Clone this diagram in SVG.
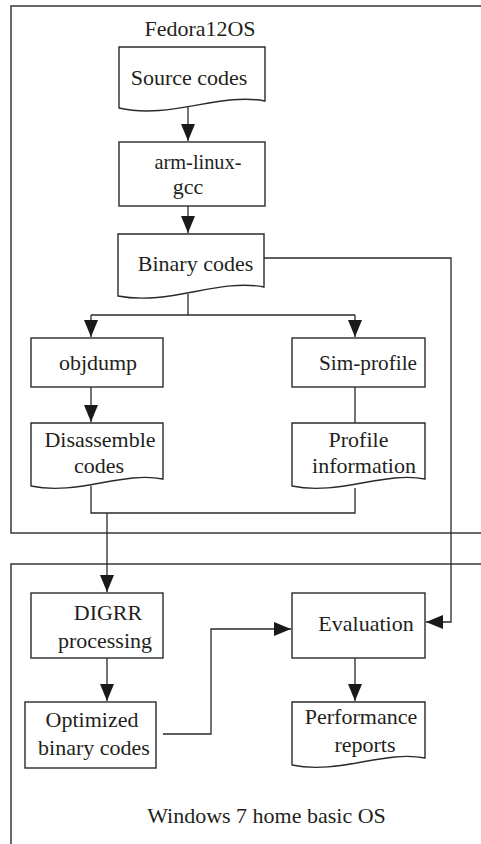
<svg xmlns="http://www.w3.org/2000/svg" width="481" height="844" viewBox="0 0 481 844">
<style>
.frame{fill:none;stroke:#2a2a2a;stroke-width:1.4}
.box{fill:#fff;stroke:#2a2a2a;stroke-width:1.4}
.conn{fill:none;stroke:#2a2a2a;stroke-width:1.3}
.t{font-family:"Liberation Serif","Times New Roman",serif;font-size:22px;fill:#231f20;text-anchor:middle}
</style>
<defs>
<marker id="ah" markerUnits="userSpaceOnUse" markerWidth="18" markerHeight="14" viewBox="0 0 18 14" refX="17" refY="7" orient="auto">
<path d="M0,0 L17,7 L0,14 Z" fill="#1a1a1a"/>
</marker>
</defs>
<rect width="481" height="844" fill="#fff"/>
<g id="fedora-frame">
<rect class="frame" x="11" y="6" width="500" height="527"/>
<text class="t" x="200" y="36">Fedora12OS</text>
</g>
<g id="windows-frame">
<rect class="frame" x="11" y="564" width="500" height="320"/>
<text class="t" x="266.5" y="823">Windows 7 home basic OS</text>
</g>
<g id="connectors">
<path class="conn" d="M188,106 V141" marker-end="url(#ah)"/>
<path class="conn" d="M188,206 V233" marker-end="url(#ah)"/>
<path class="conn" d="M264,258 H451 V622 H426" marker-end="url(#ah)"/>
<path class="conn" d="M188,294 V315"/>
<path class="conn" d="M91,315 H355"/>
<path class="conn" d="M91,315 V337" marker-end="url(#ah)"/>
<path class="conn" d="M355,315 V337" marker-end="url(#ah)"/>
<path class="conn" d="M91,387 V422" marker-end="url(#ah)"/>
<path class="conn" d="M355,387 V423"/>
<path class="conn" d="M91,486 V513 H355 V488"/>
<path class="conn" d="M107,513 V592" marker-end="url(#ah)"/>
<path class="conn" d="M107,658 V701" marker-end="url(#ah)"/>
<path class="conn" d="M163,734 H211 V629 H291" marker-end="url(#ah)"/>
<path class="conn" d="M355,658 V701" marker-end="url(#ah)"/>
</g>
<g id="source-codes">
<path class="box" d="M119,47 H265 V101 C220,92 170,120 119,108 Z"/>
<text class="t" x="189" y="85">Source codes</text>
</g>
<g id="arm-linux-gcc">
<rect class="box" x="119" y="142" width="146" height="64"/>
<text class="t" x="198" y="169" textLength="87" lengthAdjust="spacingAndGlyphs">arm-linux-</text>
<text class="t" x="188" y="194">gcc</text>
</g>
<g id="binary-codes">
<path class="box" d="M118,234 H264 V287 C219,278 169,306 118,296 Z"/>
<text class="t" x="195.5" y="271">Binary codes</text>
</g>
<g id="objdump">
<rect class="box" x="31" y="338" width="132" height="49"/>
<text class="t" x="98" y="370">objdump</text>
</g>
<g id="sim-profile">
<rect class="box" x="292" y="338" width="133" height="49"/>
<text class="t" x="368" y="370" textLength="98" lengthAdjust="spacingAndGlyphs">Sim-profile</text>
</g>
<g id="disassemble-codes">
<path class="box" d="M31,423 H163 V479 C122,471 77,496 31,486 Z"/>
<text class="t" x="100" y="447">Disassemble</text>
<text class="t" x="99" y="473">codes</text>
</g>
<g id="profile-information">
<path class="box" d="M292,423 H425 V479 C384,471 338,496 292,486 Z"/>
<text class="t" x="358.5" y="447">Profile</text>
<text class="t" x="364" y="473">information</text>
</g>
<g id="digrr-processing">
<rect class="box" x="31" y="593" width="132" height="65"/>
<text class="t" x="108" y="620">DIGRR</text>
<text class="t" x="105" y="648">processing</text>
</g>
<g id="optimized-binary-codes">
<rect class="box" x="25" y="702" width="131" height="66"/>
<text class="t" x="92" y="727">Optimized</text>
<text class="t" x="94" y="755">binary codes</text>
</g>
<g id="evaluation">
<rect class="box" x="292" y="593" width="133" height="65"/>
<text class="t" x="366" y="631">Evaluation</text>
</g>
<g id="performance-reports">
<path class="box" d="M292,702 H425 V758 C384,750 338,775 292,765 Z"/>
<text class="t" x="361" y="724">Performance</text>
<text class="t" x="365" y="752">reports</text>
</g>
</svg>
